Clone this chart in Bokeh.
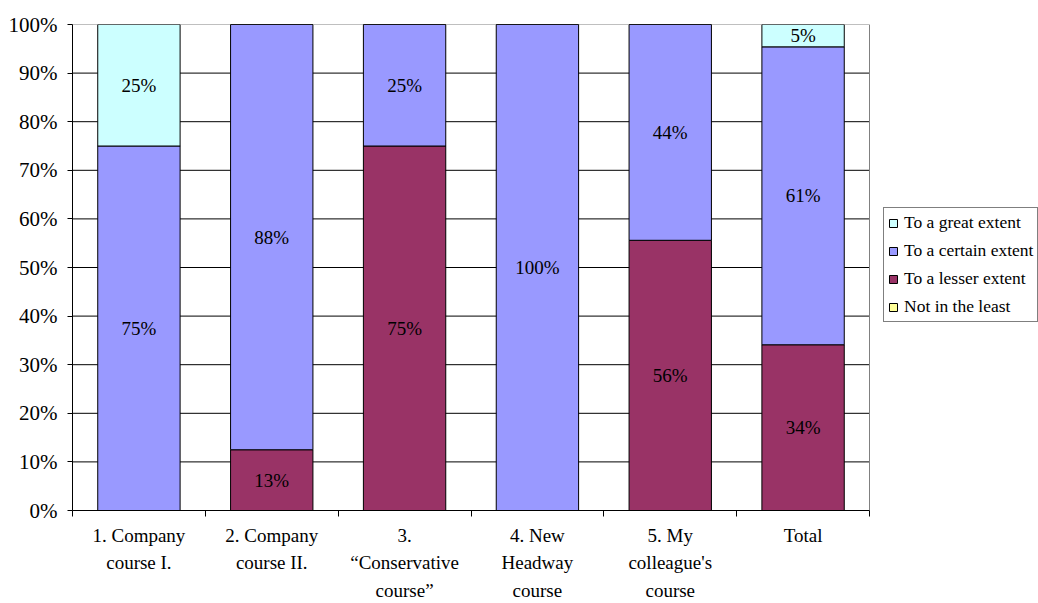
from bokeh.plotting import figure
from bokeh.models import (Range1d, FixedTicker, PrintfTickFormatter, Legend, LegendItem,
                          ColumnDataSource)
from bokeh.core.properties import value
from bokeh.embed import file_html
from bokeh.resources import INLINE

categories = ["1. Company\ncourse I.", "2. Company\ncourse II.", "3.\n\u201cConservative\ncourse\u201d",
              "4. New\nHeadway\ncourse", "5. My\ncolleague's\ncourse", "Total"]
series_names = ["To a great extent", "To a certain extent", "To a lesser extent", "Not in the least"]
great = [25, 0, 0, 0, 0, 4.6]
certain = [75, 87.5, 25, 100, 44.4, 61.3]
lesser = [0, 12.5, 75, 0, 55.6, 34.1]
not_least = [0, 0, 0, 0, 0, 0]
y_ticks = list(range(0, 101, 10))
colors = ["#CCFFFF", "#9999FF", "#993366", "#FFFF99"]

FONT = "Liberation Serif"
N = len(categories)
# the frame spans to the right edge so the legend can sit inside it;
# the plot area proper covers 797 px of the 966 px frame
X_END = N * (1038 - 72) / 797.0

x = [i + 0.5 for i in range(N)]
src = ColumnDataSource(dict(x=x, great=great, certain=certain, lesser=lesser, not_least=not_least))

p = figure(width=1038, height=603, output_backend="svg", toolbar_location=None,
           x_range=Range1d(0, X_END), y_range=Range1d(0, 100),
           min_border_left=72, min_border_top=24, min_border_bottom=93, min_border_right=0)
p.background_fill_color = "white"
p.border_fill_color = "white"
p.outline_line_color = None
p.xgrid.visible = False
p.ygrid.visible = False

# gridlines (black) and plot-area border (gray, top and right)
inner = [t for t in y_ticks if 0 < t < 100]
p.segment(x0=[0] * len(inner), x1=[N] * len(inner), y0=inner, y1=inner,
          line_color="black", line_width=1)
p.segment(x0=[0, N], x1=[N, N], y0=[100, 0], y1=[100, 100],
          line_color="#808080", line_width=1)

stack_keys = ["not_least", "lesser", "certain", "great"]
stack_cols = [colors[3], colors[2], colors[1], colors[0]]
rs = p.vbar_stack(stack_keys, x="x", width=0.62, source=src, color=stack_cols,
                  line_color="black", line_width=1)

# data labels
lx, ly, lt = [], [], []
for i in range(N):
    base = 0
    for vals in (not_least, lesser, certain, great):
        v = vals[i]
        if v > 0:
            lx.append(x[i])
            ly.append(base + v / 2)
            lt.append("%d%%" % int(v + 0.5))
        base += v
p.text(x=lx, y=ly, text=lt, text_font=value(FONT), text_font_size="19px",
       text_align="center", text_baseline="middle", text_color="black")

ya = p.yaxis[0]
ya.ticker = FixedTicker(ticks=y_ticks)
ya.formatter = PrintfTickFormatter(format="%d%%")
ya.major_label_text_font = FONT
ya.major_label_text_font_size = "21px"
ya.major_label_text_color = "black"
ya.major_tick_out = 5
ya.major_tick_in = 0
ya.minor_tick_out = 0
ya.minor_tick_in = 0
ya.major_label_standoff = 10
ya.axis_line_color = "black"

xa = p.xaxis[0]
xa.bounds = (0, N)
xa.ticker = FixedTicker(ticks=x, minor_ticks=list(range(0, N + 1)))
xa.major_label_overrides = {x[i]: categories[i] for i in range(N)}
xa.major_label_text_font = FONT
xa.major_label_text_font_size = "19px"
xa.major_label_text_color = "black"
xa.major_label_text_line_height = 1.32
xa.major_tick_out = 0
xa.major_tick_in = 0
xa.minor_tick_out = 6
xa.minor_tick_in = 0
xa.major_label_standoff = 8
xa.axis_line_color = "black"

items = [LegendItem(label=series_names[0], renderers=[rs[3]]),
         LegendItem(label=series_names[1], renderers=[rs[2]]),
         LegendItem(label=series_names[2], renderers=[rs[1]]),
         LegendItem(label=series_names[3], renderers=[rs[0]])]
legend = Legend(items=items, location=(811, 188))
legend.label_text_font = FONT
legend.label_text_font_size = "17.5px"
legend.label_text_color = "black"
legend.glyph_width = 10
legend.glyph_height = 10
legend.label_height = 21
legend.spacing = 7
legend.padding = 4
legend.margin = 0
legend.label_standoff = 6
legend.border_line_color = "black"
legend.border_line_width = 1
legend.background_fill_color = "white"
p.add_layout(legend, "center")

open("out.html", "w").write(file_html(p, INLINE))
